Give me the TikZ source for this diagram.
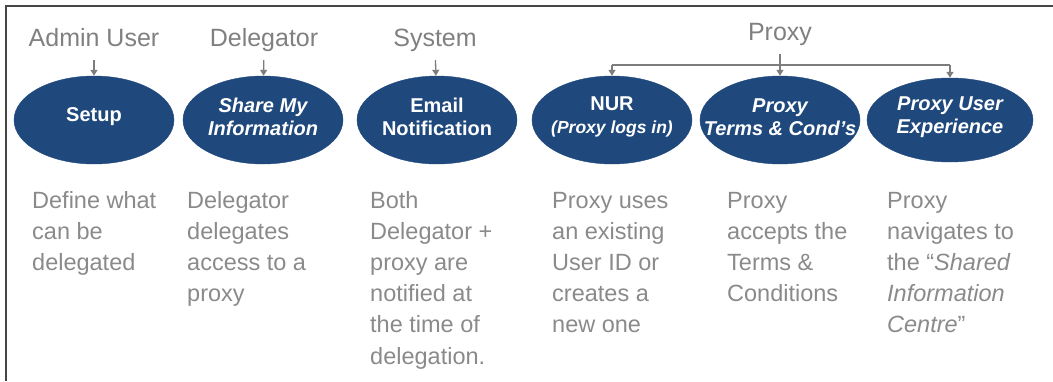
\documentclass[tikz,border=0pt]{standalone}
\usepackage{fontspec}
\setmainfont{Liberation Sans}
\usetikzlibrary{arrows.meta,shapes.geometric}
\definecolor{navy}{RGB}{31,72,124}
\definecolor{labgray}{RGB}{128,128,128}
\definecolor{descgray}{RGB}{138,138,138}
\definecolor{framegray}{RGB}{70,70,70}
\definecolor{arrgray}{RGB}{125,125,125}
\tikzset{
  stage/.style={ellipse, fill=navy, draw=navy, minimum width=160pt, minimum height=88pt,
    inner sep=0pt},
  stagetext/.style={text=white, align=center, inner sep=0pt, yshift=3pt,
    font=\fontsize{20}{23}\selectfont\bfseries},
  rolelabel/.style={anchor=base, text=labgray, font=\fontsize{25}{28}\selectfont,
    text height=18pt, text depth=6pt, inner xsep=2pt, inner ysep=8pt},
  desc/.style={anchor=base west, inner sep=0pt, text=descgray},
  arr/.style={draw=arrgray, line width=1.3pt, -{Triangle[width=7pt,length=6pt]}},
  branch/.style={draw=arrgray, line width=1.3pt},
  frameline/.style={draw=framegray, line width=1.6pt}
}
\newcommand{\desctext}[2]{\parbox[t]{#1}{\raggedright\fontsize{23.5}{31.2}\selectfont #2}}
\begin{document}
\begin{tikzpicture}[x=1pt,y=-1pt]
\useasboundingbox (0,0) rectangle (1053,381);
% frame
\coordinate (f1) at (6,381);
\coordinate (f2) at (6,6);
\coordinate (f3) at (1053,6);
\draw[frameline] (f1) -- (f2) -- (f3);

% stages
\node[stage, label={[stagetext]center:Setup}] (setup) at (94,120) {};
\node[stage, label={[stagetext]center:{\itshape Share My\\\itshape Information}}] (share) at (263,120) {};
\node[stage, label={[stagetext]center:{Email\\Notification}}] (email) at (437,120) {};
\node[stage, label={[stagetext]center:{NUR\\{\itshape\fontsize{17.5}{21}\selectfont(Proxy logs in)}}}] (nur) at (612,120) {};
\node[stage, label={[stagetext]center:{\itshape Proxy\\\itshape Terms \& Cond’s}}] (terms) at (780,120) {};
\node[stage, minimum width=166pt, minimum height=84pt, label={[stagetext]center:{\itshape Proxy User\\\itshape Experience}}] (pux) at (950,120) {};

% role labels
\node[rolelabel] (admin) at (94,46) {Admin User};
\node[rolelabel] (deleg) at (264,46) {Delegator};
\node[rolelabel] (sys) at (435,46) {System};
\node[rolelabel] (proxy) at (780,40) {Proxy};

% arrows
\draw[arr] (admin) -- (setup);
\draw[arr] (deleg) -- (share);
\draw[arr] (sys) -- (email);
\draw[arr] (proxy) -- (terms);
\coordinate (pl) at (612,65);
\coordinate (pr) at (950,65);
\draw[branch] (pl) -- (pr);
\draw[arr] (pl) -- (nur);
\draw[arr] (pr) -- (pux);

% descriptions
\node[desc] (d1) at (32,208) {\desctext{150pt}{Define what\\can be\\delegated}};
\node[desc] (d2) at (187,208) {\desctext{150pt}{Delegator\\delegates\\access to a\\proxy}};
\node[desc] (d3) at (370,208) {\desctext{160pt}{Both\\Delegator +\\proxy are\\notified at\\the time of\\delegation.}};
\node[desc] (d4) at (552,208) {\desctext{150pt}{Proxy uses\\an existing\\User ID or\\creates a\\new one}};
\node[desc] (d5) at (727,208) {\desctext{150pt}{Proxy\\accepts the\\Terms \&\\Conditions}};
\node[desc] (d6) at (887,208) {\desctext{160pt}{Proxy\\navigates to\\the “\textit{Shared}\\\textit{Information}\\\textit{Centre}”}};
\end{tikzpicture}
\end{document}
